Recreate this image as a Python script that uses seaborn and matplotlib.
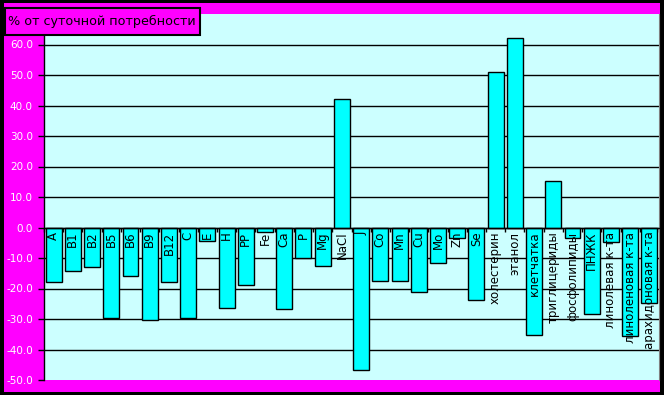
import numpy as np
import pandas as pd
import seaborn as sns
import matplotlib.pyplot as plt
from matplotlib.patches import Rectangle

# data
nutrients = ["A", "B1", "B2", "B5", "B6", "B9", "B12", "C", "E", "H", "PP",
             "Fe", "Ca", "P", "Mg", "NaCl", "J", "Co", "Mn", "Cu", "Mo", "Zn",
             "Se", "холестерин", "этанол", "клетчатка", "триглицериды",
             "фосфолипиды", "ПНЖК", "линолевая к-та", "линоленовая к-та",
             "арахидоновая к-та"]
percent = [-18.0, -14.1, -13.1, -29.6, -16.0, -30.2, -18.0, -29.8, -4.5,
           -26.5, -18.7, -1.5, -26.6, -10.0, -12.5, 42.2, -46.7, -17.7,
           -17.7, -21.0, -11.8, -3.6, -23.9, 50.9, 62.1, -35.4, 15.4, -3.6,
           -28.5, -4.9, -35.7, -24.7]
yticks = list(range(-50, 61, 10))
title = "% от суточной потребности"

df = pd.DataFrame({"nutrient": nutrients, "percent": percent})

sns.set_style("white")
plt.rcParams["font.family"] = ["DejaVu Sans"]

fig = plt.figure(figsize=(6.64, 3.95), dpi=100)
fig.patch.set_facecolor("black")
fig.patches.append(Rectangle((4 / 664, 3 / 395), 656 / 664, 389 / 395,
                             transform=fig.transFigure, facecolor="#ff00ff",
                             edgecolor="none", zorder=-10))

ax = fig.add_axes([44 / 664, 15 / 395, 615 / 664, 366 / 395])
ax.set_zorder(1)
ax.set_facecolor("#ccffff")

sns.barplot(data=df, x="nutrient", y="percent", order=nutrients,
            color="#00ffff", edgecolor="black", linewidth=1, width=0.83,
            saturation=1, ax=ax, zorder=3)

ax.set_ylim(-50, 70)
ax.set_xlim(-0.5, len(nutrients) - 0.5)
ax.set_yticks(yticks)
ax.set_yticklabels([f"{t:.1f}" for t in yticks], color="white", fontsize=7.5)
ax.yaxis.grid(True, color="black", linewidth=1)
ax.get_ygridlines()[0].set_visible(False)
ax.set_axisbelow(True)
ax.tick_params(axis="y", direction="out", length=4, width=1, color="black", pad=4, left=True)

# x axis runs through zero, with short ticks between the categories
ax.spines["bottom"].set_position(("data", 0))
ax.spines["bottom"].set_zorder(4)
ax.set_xticks(np.arange(-0.5, len(nutrients), 1))
ax.set_xticklabels([])
ax.tick_params(axis="x", direction="out", length=3, width=1, color="black", bottom=True)
for s in ["left", "bottom"]:
    ax.spines[s].set_color("black")
    ax.spines[s].set_linewidth(1)
ax.spines["top"].set_visible(False)
ax.spines["right"].set_color("#808080")
ax.set_xlabel("")
ax.set_ylabel("")

# category names hang under the zero line, reading upwards
for i, name in enumerate(nutrients):
    ax.annotate(name, (i, 0), xytext=(0, -3), textcoords="offset points",
                rotation=90, ha="center", va="top", fontsize=8.5,
                color="black", zorder=5)

# title box
fig.patches.append(Rectangle((5 / 664, 1 - 35 / 395), 195 / 664, 27 / 395,
                             transform=fig.transFigure, facecolor="#ff00ff",
                             edgecolor="black", linewidth=1.5, zorder=9))
fig.text(102 / 664, 1 - 21.5 / 395, title, fontsize=9.2, color="black",
         ha="center", va="center", zorder=10)

fig.savefig("out.png", dpi=100, facecolor=fig.get_facecolor())
